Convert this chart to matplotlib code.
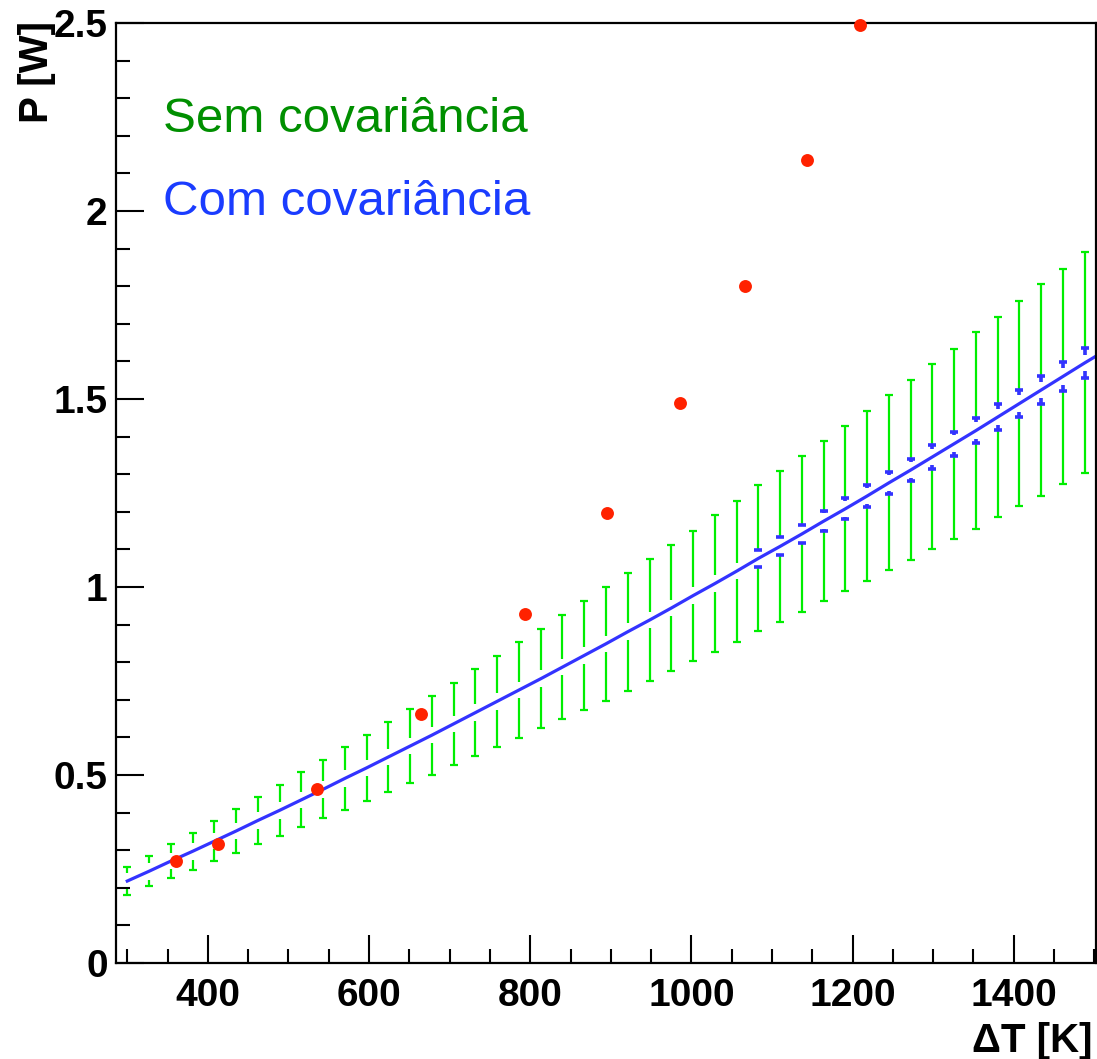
import numpy as np
import matplotlib.pyplot as plt
from matplotlib.ticker import MultipleLocator, FormatStrFormatter

# pontos do modelo (centro das barras)
dT = [300, 327, 354, 381, 408, 435, 462, 489, 516, 543, 570, 597, 624, 651, 678,
      705, 732, 759, 786, 813, 840, 867, 894, 921, 948, 975, 1002, 1029, 1056, 1083,
      1110, 1137, 1164, 1191, 1218, 1245, 1272, 1299, 1326, 1353, 1380, 1407, 1434, 1461, 1488]
P = [0.218, 0.244, 0.271, 0.297, 0.324, 0.351, 0.379, 0.406, 0.434, 0.462, 0.491, 0.519,
     0.548, 0.577, 0.606, 0.636, 0.666, 0.696, 0.726, 0.756, 0.787, 0.818, 0.849, 0.881,
     0.912, 0.944, 0.977, 1.009, 1.042, 1.076, 1.108, 1.141, 1.175, 1.208, 1.242, 1.277,
     1.311, 1.346, 1.381, 1.416, 1.452, 1.488, 1.524, 1.560, 1.596]

# erro sem covariancia (verde)
err_sem = [0.036, 0.040, 0.045, 0.049, 0.053, 0.058, 0.063, 0.067, 0.073,
           0.077, 0.083, 0.088, 0.093, 0.099, 0.105, 0.110, 0.116, 0.121,
           0.127, 0.132, 0.139, 0.144, 0.151, 0.157, 0.163, 0.168,
           0.173, 0.182, 0.187, 0.194, 0.200, 0.207, 0.213, 0.219, 0.226, 0.233,
           0.239, 0.246, 0.253, 0.261, 0.266, 0.273, 0.281, 0.287, 0.294]

# erro com covariancia (azul)
err_com = [0.008, 0.0085, 0.009, 0.0095, 0.010, 0.0105, 0.011, 0.0115, 0.012, 0.0125,
           0.013, 0.0135, 0.014, 0.0145, 0.015, 0.0155, 0.016, 0.0165, 0.017, 0.0175,
           0.018, 0.0185, 0.019, 0.0195, 0.020, 0.0205, 0.021, 0.0215, 0.022,
           0.0226, 0.024, 0.025, 0.026, 0.028, 0.028, 0.029, 0.030, 0.031, 0.0315,
           0.0325, 0.0345, 0.036, 0.0365, 0.038, 0.0395]

# curva (ate a borda)
curve_x = dT + [1502]
curve_y = P + [1.614]

# medidas
med_x = [361, 413, 535, 665, 794, 895, 986, 1067, 1143, 1209]
med_y = [0.271, 0.316, 0.463, 0.662, 0.928, 1.197, 1.489, 1.800, 2.136, 2.495]

FONT = 'Liberation Sans'
GAP = 0.022  # espaco em volta do marcador, como no ROOT

def draw_errors(ax, x, y, err, color, lw, capsize, capw):
    x = np.array(x); y = np.array(y); err = np.array(err)
    show = err > GAP
    xs, ys, es = x[show], y[show], err[show]
    ax.vlines(xs, ys + GAP, ys + es, color=color, lw=lw)
    ax.vlines(xs, ys - es, ys - GAP, color=color, lw=lw)
    ax.plot(xs, ys + es, ls='none', marker='_', ms=capsize, mew=capw, color=color)
    ax.plot(xs, ys - es, ls='none', marker='_', ms=capsize, mew=capw, color=color)

fig = plt.figure(figsize=(10.97, 10.59), dpi=100)
ax = fig.add_axes([116/1097, 96/1059, 980/1097, 940/1059])

draw_errors(ax, dT, P, err_sem, '#00ee00', 1.6, 5.5, 1.6)
draw_errors(ax, dT, P, err_com, '#3333ff', 2.6, 5.5, 2.6)
ax.plot(curve_x, curve_y, color='#3333ff', lw=2.3)
ax.plot(med_x, med_y, 'o', color='#ff2200', ms=9.3, mec='none', clip_on=False, zorder=5)

ax.set_xlim(286, 1502)
ax.set_ylim(0, 2.5)

ax.xaxis.set_major_locator(MultipleLocator(200))
ax.xaxis.set_minor_locator(MultipleLocator(50))
ax.yaxis.set_major_locator(MultipleLocator(0.5))
ax.yaxis.set_minor_locator(MultipleLocator(0.1))
ax.yaxis.set_major_formatter(FormatStrFormatter('%g'))

ax.tick_params(which='both', direction='in', top=False, right=False, width=1.5)
ax.tick_params(which='major', length=20)
ax.tick_params(which='minor', length=10)
ax.tick_params(axis='x', pad=11)
ax.tick_params(axis='y', pad=6)
for lab in ax.get_xticklabels() + ax.get_yticklabels():
    lab.set_fontfamily(FONT)
    lab.set_fontweight('bold')
    lab.set_fontsize(28)
for s in ax.spines.values():
    s.set_linewidth(1.6)

fig.text(1093/1097, 7/1059, '\u0394T [K]', ha='right', va='baseline',
         fontsize=29, fontweight='bold', family=FONT)
fig.text(37/1097, 1 - 21/1059, 'P [W]', rotation=90, ha='center', va='top',
         fontsize=29, fontweight='bold', family=FONT)

fig.text(163/1097, 1 - 132/1059, 'Sem covariância', color='#008f00',
         fontsize=35.5, family=FONT, va='baseline')
fig.text(163/1097, 1 - 215/1059, 'Com covariância', color='#1a3cff',
         fontsize=35.5, family=FONT, va='baseline')

fig.savefig('out.png', dpi=100)
